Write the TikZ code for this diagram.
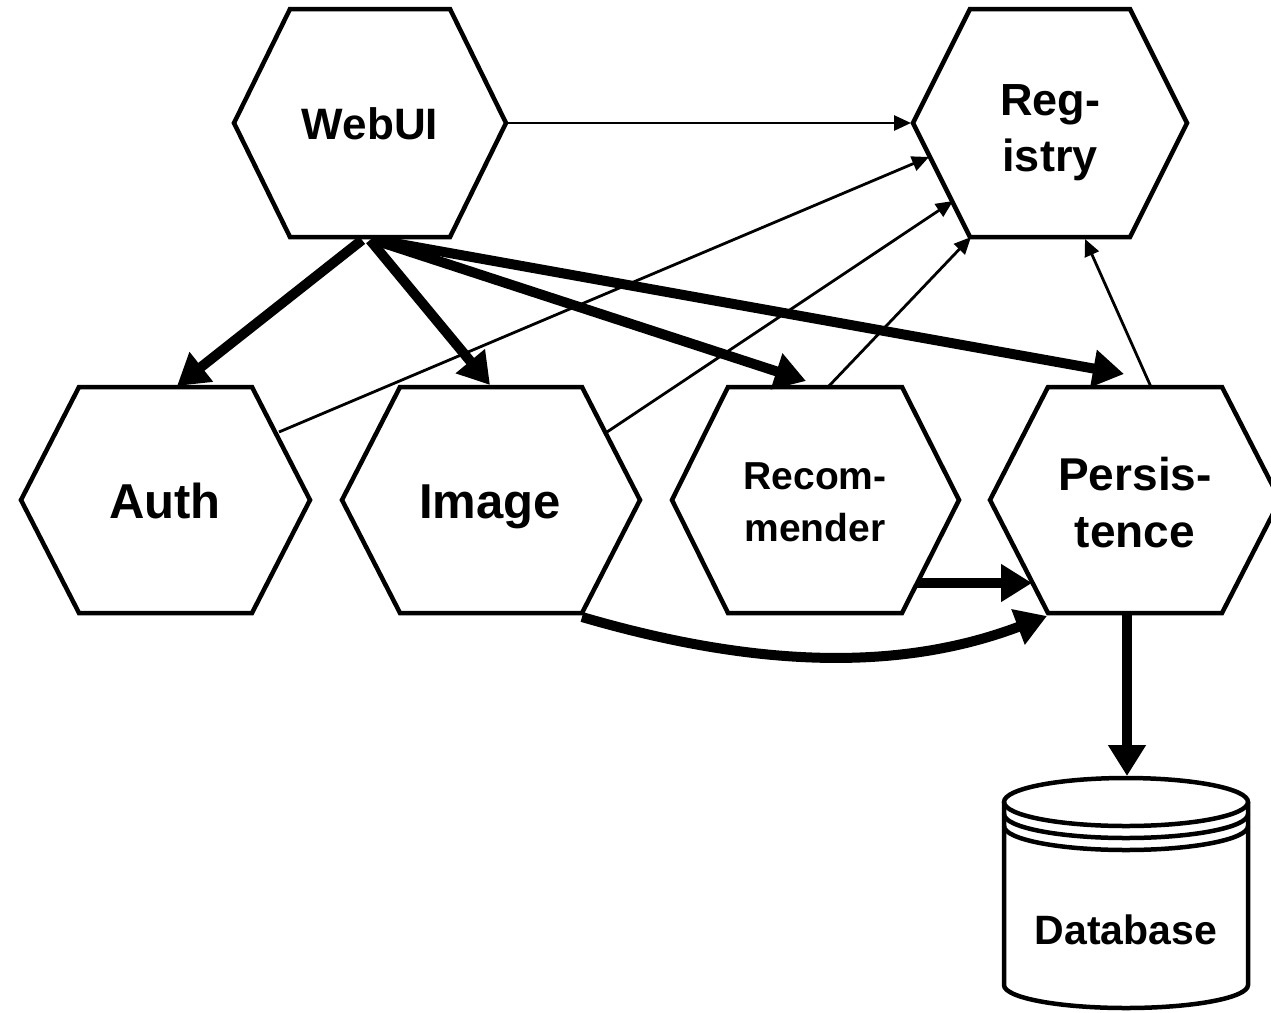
\documentclass[tikz,border=0pt]{standalone}
\usepackage{fontspec}
\setmainfont{Liberation Sans}
\usetikzlibrary{arrows.meta}
\tikzset{
  hexline/.style={line width=4.5pt, line join=miter},
  thinarrow/.style={line width=2.8pt, -{Triangle[length=17pt,width=15pt]}},
  thickarrow/.style={line width=10pt, -{Triangle[length=31pt,width=36pt]}},
  txt/.style={font=\bfseries, align=center, inner sep=0pt},
}
\begin{document}
\begin{tikzpicture}[x=1pt,y=-1pt]
\useasboundingbox (0,0) rectangle (1271,1012);
\clip (0,0) rectangle (1271,1012);
% hexagons
\draw[hexline] (234,123) -- (290,9) -- (450,9) -- (506,123) -- (450,237) -- (290,237) -- cycle;
\draw[hexline] (913,123) -- (970,9) -- (1130,9) -- (1187,123) -- (1130,237) -- (970,237) -- cycle;
\draw[hexline] (21,500) -- (79,387) -- (252,387) -- (310,500) -- (252,613) -- (79,613) -- cycle;
\draw[hexline] (342,500) -- (400,387) -- (582,387) -- (640,500) -- (582,613) -- (400,613) -- cycle;
\draw[hexline] (672,500) -- (728,387) -- (902,387) -- (959,500) -- (902,613) -- (728,613) -- cycle;
\draw[hexline] (990,500) -- (1048,387) -- (1222,387) -- (1280,500) -- (1222,613) -- (1048,613) -- cycle;
% database cylinder
\draw[hexline] (1126,802) ellipse [x radius=122, y radius=24];
\draw[hexline] (1004,814) arc[start angle=180, end angle=0, x radius=122, y radius=24];
\draw[hexline] (1004,826) arc[start angle=180, end angle=0, x radius=122, y radius=24];
\draw[hexline] (1004,802) -- (1004,985) arc[start angle=180, end angle=0, x radius=122, y radius=23] -- (1248,802);
% texts
\node[txt, font=\fontsize{44}{50}\selectfont\bfseries] (webui) at (370,124) {WebUI};
\node[txt, font=\fontsize{45}{56}\selectfont\bfseries] (registry) at (1050,133) {Reg-\\istry};
\node[txt, font=\fontsize{49}{56}\selectfont\bfseries] (auth) at (165,501) {Auth};
\node[txt, font=\fontsize{49}{56}\selectfont\bfseries, anchor=base] (image) at (490,518) {Image};
\node[txt, font=\fontsize{39}{52}\selectfont\bfseries] (recommender) at (815,502) {Recom-\\mender};
\node[txt, font=\fontsize{46}{57}\selectfont\bfseries] (persistence) at (1135,503) {Persis-\\tence};
\node[txt, font=\fontsize{41}{48}\selectfont\bfseries] (database) at (1126,930) {Database};
% connector end points
\coordinate (webui-r) at (506,123);
\coordinate (reg-l) at (911,123);
\coordinate (reg-a) at (929,157);
\coordinate (reg-i) at (953,201);
\coordinate (reg-c) at (971,237);
\coordinate (reg-b) at (1085,239);
\coordinate (auth-s) at (279,432);
\coordinate (img-s) at (607,432);
\coordinate (rec-s) at (828,387);
\coordinate (pers-s) at (1151,387);
\coordinate (wb1) at (362,240);
\coordinate (wb2) at (370,240);
\coordinate (wb3) at (374,240);
\coordinate (wb4) at (377,240);
\coordinate (auth-t) at (177,386);
\coordinate (img-t) at (490,385);
\coordinate (rec-t) at (806,381);
\coordinate (pers-t) at (1124,374);
\coordinate (rec-r) at (917,583);
\coordinate (pers-l) at (1032,583);
\coordinate (img-br) at (582,617);
\coordinate (pers-bl) at (1047,616);
\coordinate (pers-b) at (1127,613);
\coordinate (db-t) at (1127,776);
% thin connectors
\draw[thinarrow] (webui-r) -- (reg-l);
\draw[thinarrow] (auth-s) -- (reg-a);
\draw[thinarrow] (img-s) -- (reg-i);
\draw[thinarrow] (rec-s) -- (reg-c);
\draw[thinarrow] (pers-s) -- (reg-b);
% thick connectors
\draw[thickarrow] (wb1) -- (auth-t);
\draw[thickarrow] (wb2) -- (img-t);
\draw[thickarrow] (wb3) -- (rec-t);
\draw[thickarrow] (wb4) -- (pers-t);
\draw[thickarrow] (rec-r) -- (pers-l);
\draw[thickarrow] (img-br) .. controls (770,672) and (910,668) .. (pers-bl);
\draw[thickarrow] (pers-b) -- (db-t);
\end{tikzpicture}
\end{document}
